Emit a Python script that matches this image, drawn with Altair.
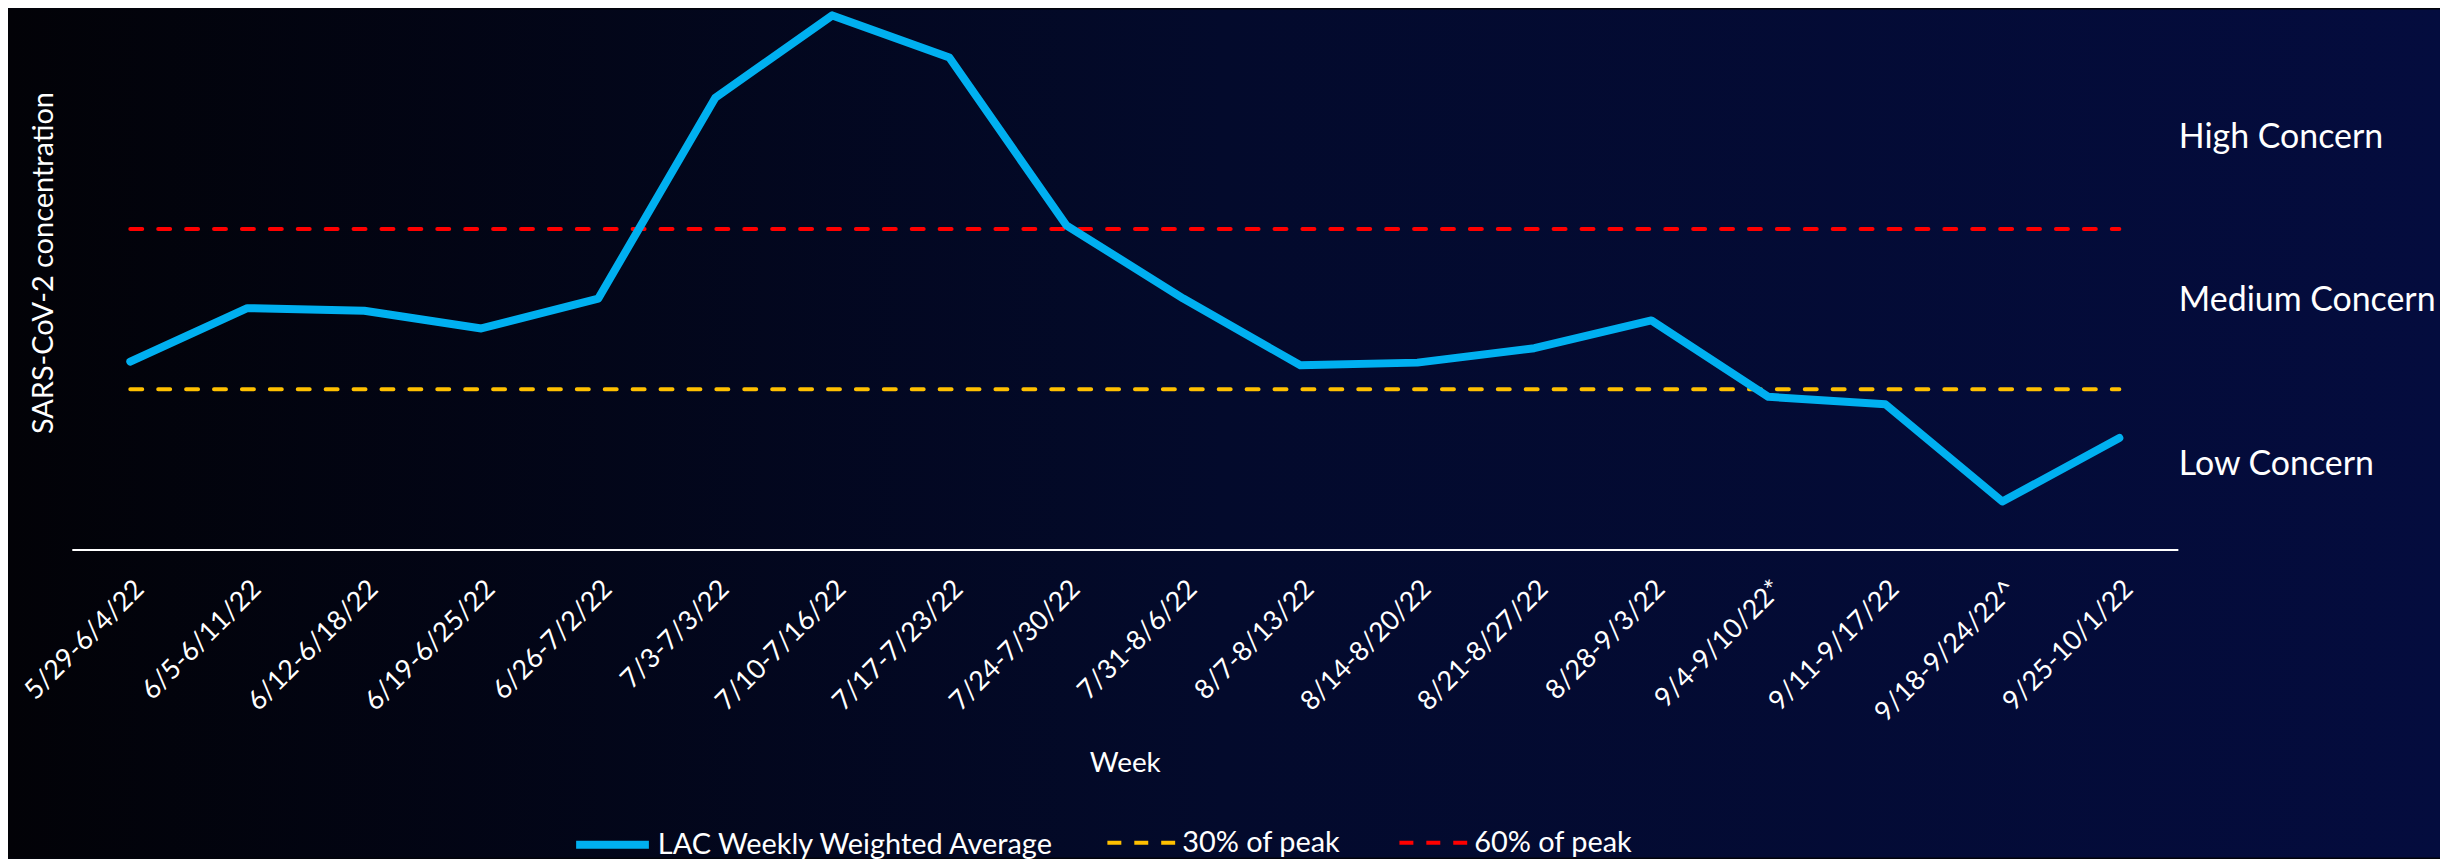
import altair as alt
import pandas as pd

# ---- data ----
weeks = ["5/29-6/4/22", "6/5-6/11/22", "6/12-6/18/22", "6/19-6/25/22", "6/26-7/2/22",
         "7/3-7/3/22", "7/10-7/16/22", "7/17-7/23/22", "7/24-7/30/22", "7/31-8/6/22",
         "8/7-8/13/22", "8/14-8/20/22", "8/21-8/27/22", "8/28-9/3/22", "9/4-9/10/22*",
         "9/11-9/17/22", "9/18-9/24/22^", "9/25-10/1/22"]
weighted_avg = [0.352, 0.452, 0.447, 0.414, 0.470, 0.846, 1.000, 0.921, 0.607, 0.470,
                0.345, 0.350, 0.377, 0.429, 0.286, 0.272, 0.090, 0.209]
series_names = ["LAC Weekly Weighted Average", "30% of peak", "60% of peak"]
series_colors = ["#00B0F0", "#FFC000", "#FF0000"]
threshold_fracs = [0.30, 0.60]
concern_labels = ["High Concern", "Medium Concern", "Low Concern"]
concern_levels = [0.771, 0.466, 0.159]

peak = max(weighted_avg)

# ---- layout ----
W, H = 2113, 536
PAD_L, PAD_T, PAD_R, PAD_B = 64, 6, 263, 309
FONT = "Lato"
LEGEND_CENTER = 828  # relative to the plot top

df_main = pd.DataFrame({"week": weeks, "value": weighted_avg, "series": series_names[0]})
df_30 = pd.DataFrame({"week": weeks, "value": [threshold_fracs[0] * peak] * len(weeks),
                      "series": series_names[1]})
df_60 = pd.DataFrame({"week": weeks, "value": [threshold_fracs[1] * peak] * len(weeks),
                      "series": series_names[2]})
df_text = pd.DataFrame({"label": concern_labels, "value": concern_levels})

x_enc = alt.X(
    "week:O", sort=weeks,
    scale=alt.Scale(type="point", padding=0.5),
    axis=alt.Axis(
        title="Week", titleFont=FONT, titleFontSize=28, titleColor="white",
        titleFontWeight="normal", titleBaseline="middle", titleY=215,
        labelFont=FONT, labelFontSize=27, labelColor="white", labelAngle=-45,
        labelPadding=26, labelLimit=400,
        ticks=False, grid=False, domainColor="white", domainWidth=2, zindex=1,
    ),
)
y_enc = alt.Y(
    "value:Q",
    scale=alt.Scale(domain=[0, 1], nice=False, zero=True),
    axis=alt.Axis(
        title="SARS-CoV-2 concentration", titleFont=FONT, titleFontSize=29,
        titleColor="white", titleFontWeight="normal", titleAngle=270,
        titleAlign="center", titleBaseline="middle", titleX=-28, titleY=248,
        labels=False, ticks=False, grid=False, domain=False, zindex=1,
    ),
)


def make_legend(x, length, width, dash=None):
    kw = dict(title=None, orient="none", legendX=x, legendY=LEGEND_CENTER - length / 2,
              symbolType="stroke", symbolSize=length * length, symbolStrokeWidth=width,
              labelFont=FONT, labelFontSize=29, labelColor="white",
              labelOffset=5, labelLimit=1000, padding=0)
    if dash is not None:
        kw["symbolDash"] = dash
    return alt.Legend(**kw)


bg = alt.Chart(pd.DataFrame({"bg": [0]})).mark_rect(
    fill=alt.LinearGradient(
        gradient="linear", x1=0, x2=1, y1=0, y2=0,
        stops=[alt.GradientStop(color="#020207", offset=0),
               alt.GradientStop(color="#030a2c", offset=0.5),
               alt.GradientStop(color="#040c3e", offset=1)],
    )
).encode(x=alt.value(-PAD_L), x2=alt.value(W + PAD_R),
         y=alt.value(-PAD_T), y2=alt.value(H + PAD_B))

l30 = alt.Chart(df_30).mark_line(strokeWidth=4, strokeDash=[12, 16], strokeCap="round").encode(
    x=x_enc, y=y_enc,
    color=alt.Color("series:N", scale=alt.Scale(domain=[series_names[1]], range=[series_colors[1]]),
                    legend=make_legend(1037, 68, 4, [14, 13])),
)
l60 = alt.Chart(df_60).mark_line(strokeWidth=4, strokeDash=[12, 16], strokeCap="round").encode(
    x=x_enc, y=y_enc,
    color=alt.Color("series:N", scale=alt.Scale(domain=[series_names[2]], range=[series_colors[2]]),
                    legend=make_legend(1330, 68, 4, [14, 13])),
)
main = alt.Chart(df_main).mark_line(strokeWidth=8, strokeCap="round", strokeJoin="round").encode(
    x=x_enc, y=y_enc,
    color=alt.Color("series:N", scale=alt.Scale(domain=[series_names[0]], range=[series_colors[0]]),
                    legend=make_legend(502, 73, 8)),
)
txt = alt.Chart(df_text).mark_text(
    align="left", baseline="middle", font=FONT, fontSize=34, color="white"
).encode(x=alt.value(W + 1), y=y_enc, text="label:N")

chart = alt.layer(bg, l30, l60, main, txt).resolve_scale(color="independent").properties(
    width=W, height=H,
    padding={"left": PAD_L, "top": PAD_T, "right": PAD_R, "bottom": PAD_B},
    autosize=alt.AutoSizeParams(type="none"),
    background="#02030a",
).configure_view(stroke=None)

chart.save("out.html", embed_options={"renderer": "svg", "actions": False})
